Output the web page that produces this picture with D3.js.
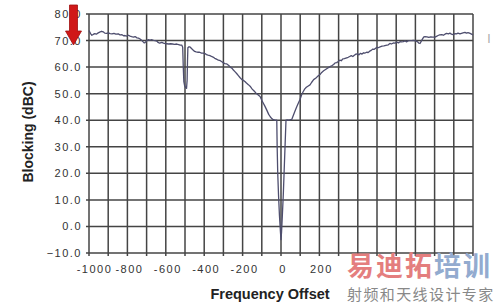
<!DOCTYPE html>
<html>
<head>
<meta charset="utf-8">
<script src="https://d3js.org/d3.v7.min.js"></script>
<style>
  body { margin: 0; background: #fff; }
  svg { display: block; }
</style>
</head>
<body>
<div id="chart"></div>
<script>

// frequency offset grid and tick labels (labels past 200 sit under the watermark)
var xTicks = d3.range(-1000, 201, 200);
var xGrid = d3.range(-1000, 1001, 100);
var yTicks = d3.range(-10, 81, 10);

// blocking trace: offset, dBC
var offset = [-1000,-992,-985,-978,-970,-962,-952,-944,-935,-926,-918,-908,-899,-890,-880,-870,-860,-847,-838,-828,
  -820,-813,-803,-795,-786,-778,-768,-760,-750,-742,-734,-726,-718,-712,-708,-700,-692,-682,-672,-664,
  -655,-647,-640,-632,-621,-612,-603,-595,-585,-575,-565,-555,-543,-533,-525,-517,-512,-509,-506,-502,
  -497,-492,-489,-487,-485,-481,-474,-466,-458,-450,-442,-432,-424,-414,-405,-396,-388,-380,-370,-362,
  -354,-345,-336,-326,-316,-308,-300,-292,-282,-272,-264,-256,-248,-240,-231,-222,-214,-205,-196,-188,
  -180,-170,-161,-150,-140,-130,-120,-109,-100,-92,-84,-74,-64,-56,-48,-40,-31,-22,-20,-17,
  -13,-8,-3,0,3,7,12,16,21,26,34,42,50,56,64,72,82,90,99,108,
  116,124,132,142,151,160,170,182,192,203,212,222,232,242,255,264,274,282,290,298,
  306,314,322,330,342,350,358,366,374,382,390,398,406,414,422,430,438,446,454,462,
  470,478,486,498,506,516,526,536,546,559,567,575,585,594,603,612,620,628,637,646,
  654,662,670,680,689,696,704,712,718,724,730,738,744,750,760,770,780,790,802,810,
  818,826,837,846,854,862,872,880,888,896,906,914,922,932,940,948,958,966,974,982,
  990,1000];
var blocking = [73.8,72.6,72.0,72.3,72.6,72.4,72.9,73.2,73.5,73.3,72.8,72.7,72.9,72.6,72.5,72.7,72.4,72.5,72.1,72.2,
  71.8,71.9,71.7,72.0,71.7,71.5,71.3,71.5,71.0,70.9,70.6,70.1,69.5,69.1,69.2,69.9,70.3,70.2,70.3,70.1,
  70.0,69.8,69.3,69.0,69.3,69.0,68.8,68.8,68.7,68.8,68.7,68.6,68.7,68.5,68.3,68.3,67.5,60.0,54.5,53.0,
  52.3,52.0,55.0,62.0,67.3,67.6,67.6,67.0,66.4,65.9,65.7,65.6,65.6,65.3,65.3,65.1,64.7,64.5,64.3,64.0,
  63.8,63.3,63.0,62.6,62.4,62.0,61.6,61.3,61.2,60.6,60.0,59.6,58.9,58.3,57.6,56.8,56.1,55.4,55.0,54.6,
  54.0,53.4,52.8,51.7,51.0,50.2,49.6,48.9,47.5,46.4,45.3,43.8,42.2,41.3,40.6,40.2,40.0,40.0,30.0,20.0,
  12.0,4.0,-2.0,-5.0,-2.0,4.0,12.0,20.0,30.0,40.0,40.1,40.0,40.2,40.3,41.8,43.3,45.1,46.4,47.8,49.7,
  50.8,51.8,52.4,52.9,53.3,54.3,55.3,55.9,56.6,57.2,58.0,58.6,59.1,59.6,60.2,60.5,61.0,61.6,61.7,62.1,
  62.6,62.4,63.1,63.2,63.5,63.7,64.0,64.3,64.0,64.5,64.9,65.0,64.6,65.2,64.9,65.4,65.3,65.6,65.5,66.0,
  66.3,66.8,66.7,67.4,67.3,67.6,67.9,68.0,68.2,68.4,68.9,68.7,69.1,69.0,69.4,69.1,69.6,69.5,69.6,69.9,
  69.5,69.9,70.0,70.0,70.1,70.0,69.8,69.5,69.0,68.9,69.7,70.7,71.4,71.5,71.4,71.2,71.4,71.3,71.3,71.6,
  71.9,72.1,72.2,72.0,72.4,72.7,72.5,72.8,72.4,72.2,72.6,72.5,72.8,72.5,72.7,72.9,73.1,72.8,73.0,72.8,
  72.5,72.1];

var margin = {top: 14, right: 27, bottom: 51, left: 89};
var W = 500, H = 304;
var width = W - margin.left - margin.right;
var height = H - margin.top - margin.bottom;

var svg = d3.select("#chart").append("svg")
    .attr("width", W)
    .attr("height", H);

var x = d3.scaleLinear().domain([-1000, 1000]).range([margin.left, margin.left + width]);
var y = d3.scaleLinear().domain([-10, 80]).range([margin.top + height, margin.top]);

var gridColor = "#444";

// vertical grid lines, poking a little below the bottom line like ticks
svg.append("g").selectAll("line")
    .data(xGrid)
    .enter().append("line")
    .attr("x1", function(d) { return x(d); })
    .attr("x2", function(d) { return x(d); })
    .attr("y1", y(80))
    .attr("y2", y(-10) + 3)
    .attr("stroke", gridColor)
    .attr("stroke-width", 1.5);

// horizontal grid lines with a short tick to the left
svg.append("g").selectAll("line")
    .data(yTicks)
    .enter().append("line")
    .attr("x1", x(-1000) - 3)
    .attr("x2", x(1000))
    .attr("y1", function(d) { return y(d); })
    .attr("y2", function(d) { return y(d); })
    .attr("stroke", gridColor)
    .attr("stroke-width", 1.5);

// y labels
svg.append("g").selectAll("text")
    .data(yTicks)
    .enter().append("text")
    .attr("x", x(-1000) - 7)
    .attr("y", function(d) { return y(d) + 4; })
    .attr("text-anchor", "end")
    .style("font-family", "Liberation Sans, Arial, sans-serif")
    .style("font-size", "11px")
    .style("letter-spacing", "1.5px")
    .style("fill", "#333")
    .text(function(d) { return d3.format(".1f")(d); });

// x labels
svg.append("g").selectAll("text")
    .data(xTicks)
    .enter().append("text")
    .attr("x", function(d) { return x(d); })
    .attr("dx", function(d, i) { return i == 0 ? 5.5 : 2; })
    .attr("y", y(-10) + 20)
    .attr("text-anchor", "middle")
    .style("font-family", "Liberation Sans, Arial, sans-serif")
    .style("font-size", "11px")
    .style("letter-spacing", "1.5px")
    .style("fill", "#333")
    .text(function(d) { return d; });

// the trace
var pts = offset.map(function(d, i) { return [d, blocking[i]]; });
var line = d3.line()
    .x(function(d) { return x(d[0]); })
    .y(function(d) { return y(d[1]); });

svg.append("path")
    .datum(pts)
    .attr("d", line)
    .attr("fill", "none")
    .attr("stroke", "#4e4e6e")
    .attr("stroke-width", 1.3)
    .attr("stroke-linejoin", "round");

// axis titles
svg.append("text")
    .attr("transform", "translate(33," + 132 + ") rotate(-90)")
    .attr("text-anchor", "middle")
    .style("font-family", "Liberation Sans, Arial, sans-serif")
    .style("font-size", "14px")
    .style("font-weight", "bold")
    .style("fill", "#222")
    .text("Blocking (dBC)");

svg.append("text")
    .attr("x", 270)
    .attr("y", 299)
    .attr("text-anchor", "middle")
    .style("font-family", "Liberation Sans, Arial, sans-serif")
    .style("font-size", "14.5px")
    .style("font-weight", "bold")
    .style("fill", "#222")
    .text("Frequency Offset");

// red arrow marker pointing at the top of the y axis
svg.append("path")
    .attr("d", "M69.5,5 L77.5,5 L77.5,31 L81.5,31 L73.5,45 L65.5,31 L69.5,31 Z")
    .attr("fill", "#d01818")
    .attr("stroke", "#a01010")
    .attr("stroke-width", 0.8);

// small mark on the right edge
svg.append("text")
    .attr("x", 489)
    .attr("y", 43)
    .attr("text-anchor", "middle")
    .style("font-family", "Liberation Sans, Arial, sans-serif")
    .style("font-size", "12px")
    .style("fill", "#aaa")
    .text("I");

// watermark in the bottom right corner
var wm = svg.append("text")
    .attr("x", 347)
    .attr("y", 276)
    .style("font-family", "Noto Sans CJK SC")
    .style("font-size", "27px")
    .style("letter-spacing", "2px")
    .style("font-weight", "bold");
wm.append("tspan").style("fill", "#e47e7e").text("易迪拓");
wm.append("tspan").style("fill", "#93abcf").text("培训");

svg.append("text")
    .attr("x", 347)
    .attr("y", 300)
    .style("font-family", "Noto Sans CJK SC")
    .style("font-size", "15px")
    .style("letter-spacing", "1.4px")
    .style("fill", "#888")
    .text("射频和天线设计专家");

</script>
</body>
</html>
